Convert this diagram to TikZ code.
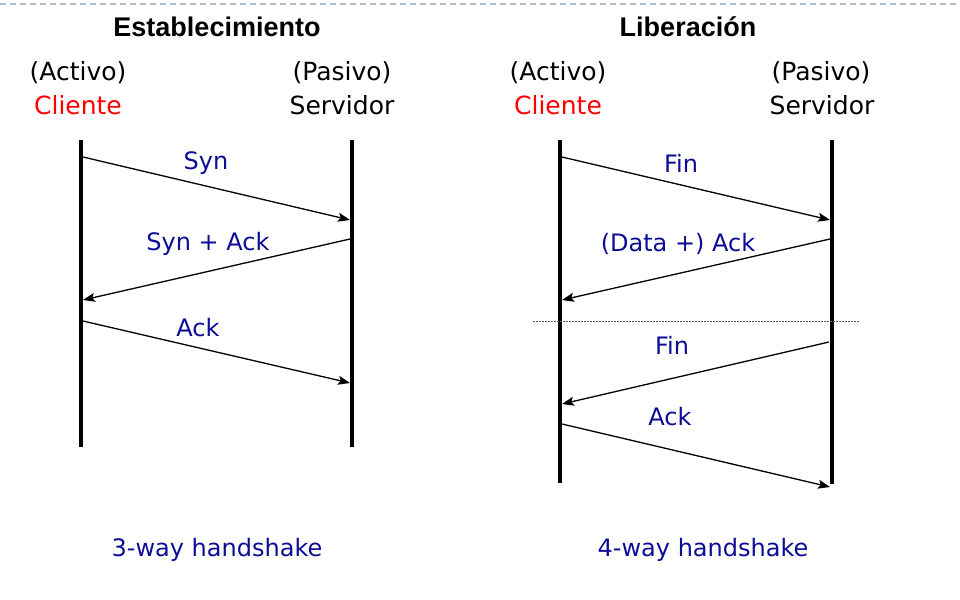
\documentclass[tikz,border=0pt]{standalone}
\usepackage{fontspec}
\setmainfont{DejaVu Sans}
\newfontfamily\titlefont{Liberation Sans}
\usetikzlibrary{arrows.meta}

\begin{document}
\begin{tikzpicture}[x=1pt,y=-1pt]
\definecolor{msgblue}{RGB}{12,12,150};
\definecolor{rulegray}{RGB}{176,188,203};
\tikzset{title/.style={font=\titlefont\bfseries\fontsize{27}{32}\selectfont},
         role/.style={font=\fontsize{25}{30}\selectfont},
         msg/.style={font=\fontsize{24}{29}\selectfont, text=msgblue},
         lifeline/.style={line width=4.5pt},
         packet/.style={-{Stealth[length=12pt,width=9pt,inset=2.5pt]}, line width=1.3pt}}
\useasboundingbox (0,0) rectangle (960,599);
\draw [rulegray, dash pattern=on 6pt off 4pt, line width=1.2pt] (0,4) -- (960,4);
% establecimiento
\node [title] (est) at (217,27) {Establecimiento};
\node [role] (act1) at (78,73) {(Activo)};
\node [role, text=red] (cli1) at (78,105) {Cliente};
\node [role] (pas1) at (342,73) {(Pasivo)};
\node [role] (ser1) at (342,105) {Servidor};
\coordinate (c1t) at (81,140);
\coordinate (c1b) at (81,447);
\coordinate (s1t) at (352,140);
\coordinate (s1b) at (352,447);
\draw [lifeline] (c1t) to (c1b);
\draw [lifeline] (s1t) to (s1b);
\coordinate (syna) at (83,157);
\coordinate (synb) at (350,220);
\coordinate (sacka) at (350,239);
\coordinate (sackb) at (83,300);
\coordinate (acka) at (83,321);
\coordinate (ackb) at (350,383);
\draw [packet] (syna) to (synb);
\draw [packet] (sacka) to (sackb);
\draw [packet] (acka) to (ackb);
\node [msg] (syn) at (206,163) {Syn};
\node [msg] (synack) at (208,244) {Syn + Ack};
\node [msg] (ack1) at (198,328) {Ack};
\node [msg] (three) at (217,550) {3-way handshake};
% liberacion
\node [title] (lib) at (688,27) {Liberación};
\node [role] (act2) at (558,73) {(Activo)};
\node [role, text=red] (cli2) at (558,105) {Cliente};
\node [role] (pas2) at (821,73) {(Pasivo)};
\node [role] (ser2) at (822,105) {Servidor};
\coordinate (c2t) at (560,140);
\coordinate (c2b) at (560,483);
\coordinate (s2t) at (832,140);
\coordinate (s2b) at (832,484);
\draw [lifeline] (c2t) to (c2b);
\draw [lifeline] (s2t) to (s2b);
\coordinate (fina) at (562,157);
\coordinate (finb) at (830,220);
\coordinate (dacka) at (830,239);
\coordinate (dackb) at (562,300);
\coordinate (dota) at (533,321);
\coordinate (dotb) at (860,321);
\draw [dash pattern=on 1.5pt off 1.5pt, line width=1pt, gray!70!black] (dota) to (dotb);
\coordinate (fin2a) at (829,342);
\coordinate (fin2b) at (562,404);
\coordinate (ack2a) at (562,424);
\coordinate (ack2b) at (830,487);
\draw [packet] (fina) to (finb);
\draw [packet] (dacka) to (dackb);
\draw [packet] (fin2a) to (fin2b);
\draw [packet] (ack2a) to (ack2b);
\node [msg] (fin) at (681,163) {Fin};
\node [msg] (dataack) at (678,244) {(Data +) Ack};
\node [msg] (fin2) at (672,345) {Fin};
\node [msg] (ack2) at (670,417) {Ack};
\node [msg] (four) at (703,550) {4-way handshake};
\end{tikzpicture}
\end{document}
